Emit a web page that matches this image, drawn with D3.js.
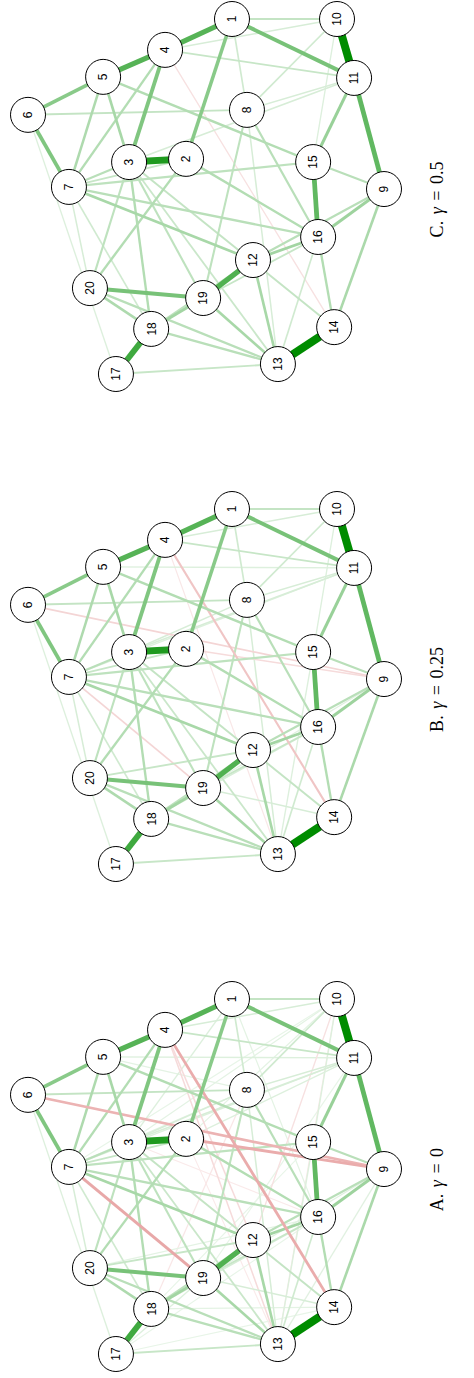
<!DOCTYPE html>
<html>
<head>
<meta charset="utf-8">
<script src="https://cdn.jsdelivr.net/npm/d3@7"></script>
<style>
  html, body { margin: 0; padding: 0; background: #ffffff; }
  svg { display: block; }
</style>
</head>
<body>
<script>
// Node layout (shared by all three networks), in layout units 0..100
const nodeIds = [1, 2, 3, 4, 5, 6, 7, 8, 9, 10, 11, 12, 13, 14, 15, 16, 17, 18, 19, 20];
const layoutX = [57.3, 44.4, 28.4, 38.5, 21.1, 0.0, 11.5, 61.5, 100.0, 86.8, 91.6, 63.2, 70.2, 86.0, 80.1, 81.5, 24.7, 34.6, 49.2, 17.4];
const layoutY = [0.0, 39.4, 40.3, 8.7, 16.3, 27.0, 47.3, 25.6, 47.9, 0.0, 16.6, 67.9, 97.2, 86.8, 40.3, 61.4, 100.0, 87.3, 78.6, 75.8];

// Panels, top to bottom
const panelLetters = ["C", "B", "A"];
const panelGammas = ["0.5", "0.25", "0"];

// Edge weights (partial correlations, scaled): [from, to, weight]
const edgesGamma05 = [
  [2, 3, .85], [10, 11, 1], [13, 14, 1], [17, 18, .7], [1, 4, .6], [4, 5, .6],
  [12, 19, .62], [9, 11, .55], [15, 16, .55], [1, 11, .45], [19, 20, .45],
  [5, 6, .38], [6, 7, .42], [3, 4, .42], [1, 2, .38], [11, 15, .32], [9, 16, .3],
  [12, 16, .28], [9, 14, .25], [12, 13, .26], [13, 19, .26], [14, 16, .22],
  [3, 5, .26], [5, 7, .24], [4, 7, .22], [5, 15, .22], [6, 8, .16], [1, 10, .16],
  [8, 10, .12], [8, 16, .2], [8, 19, .18], [8, 13, .1], [7, 12, .26], [7, 16, .2],
  [2, 16, .22], [4, 14, -.08], [6, 17, .08], [7, 20, .1], [3, 18, .22], [3, 19, .18],
  [3, 13, .14], [3, 7, .2], [2, 7, .15], [18, 19, .28], [18, 20, .24], [13, 20, .2],
  [13, 18, .2], [13, 17, .15], [12, 18, .18], [2, 20, .22], [3, 20, .18], [7, 18, .12],
  [8, 11, .1], [3, 11, .1], [3, 14, .16], [16, 19, .15], [9, 12, .2], [13, 16, .12],
  [9, 15, .2], [7, 15, .18], [1, 8, .12], [4, 11, .15], [10, 15, .08], [4, 10, .1]
];
// Additional / changed edges at gamma = 0.25
const edgesGamma025 = [
  [6, 9, -.12], [2, 9, -.1], [7, 19, -.12], [4, 14, -.18], [4, 13, -.06],
  [3, 8, .1], [7, 11, .08], [12, 20, .15], [5, 11, .08], [14, 19, .1],
  [16, 18, .1], [13, 15, .08], [1, 5, .06], [9, 19, .07]
];
// Additional / changed edges at gamma = 0
const edgesGamma0 = [
  [6, 9, -.25], [2, 9, -.28], [7, 19, -.3], [4, 14, -.28], [4, 13, -.1], [4, 12, -.1],
  [10, 12, -.08], [10, 13, -.06], [8, 18, -.06], [3, 16, -.05], [2, 13, -.05],
  [2, 10, .06], [3, 10, .06], [7, 10, .05], [2, 11, .08], [1, 3, .08], [5, 8, .06],
  [7, 8, .06], [9, 13, .07], [14, 18, .06], [15, 18, .05], [17, 19, .08],
  [14, 17, .05], [16, 20, .06], [16, 17, .05], [1, 16, .06], [11, 19, .05]
];

// Combine: each lower gamma keeps the sparser network's edges and adds its own
function mergeEdges(base, extra) {
  const m = new Map();
  base.concat(extra).forEach(([a, b, w]) => m.set(Math.min(a, b) + "-" + Math.max(a, b), [a, b, w]));
  return Array.from(m.values());
}
const edgesB = mergeEdges(edgesGamma05, edgesGamma025);
const edgesA = mergeEdges(edgesB, edgesGamma0);
const panelEdges = [edgesGamma05, edgesB, edgesA];

const W = 474, H = 1378;
const panelTop = [0, 490, 980];

const svg = d3.select("body").append("svg").attr("width", W).attr("height", H);

const x = d3.scaleLinear().domain([0, 100]).range([28, 384]);
const y = d3.scaleLinear().domain([0, 100]).range([19, 374]);
const nodeR = 17.5;

const posColor = d3.interpolateRgb("#ffffff", "#008c00");
const negColor = d3.interpolateRgb("#ffffff", "#c41a1a");
const strength = d3.scalePow().exponent(0.8).domain([0, 1]).range([0, 1]).clamp(true);
const widthScale = d3.scaleLinear().domain([0, 1]).range([0.8, 8]);

const nodes = nodeIds.map((id, i) => ({ id, lx: layoutX[i], ly: layoutY[i] }));
const byId = new Map(nodes.map(n => [n.id, n]));

panelEdges.forEach((edges, p) => {
  const g = svg.append("g").attr("transform", `translate(0,${panelTop[p]})`);

  const sorted = edges.slice().sort((a, b) => Math.abs(a[2]) - Math.abs(b[2]));
  g.append("g").selectAll("line").data(sorted).join("line")
    .attr("x1", d => x(byId.get(d[0]).lx))
    .attr("y1", d => y(byId.get(d[0]).ly))
    .attr("x2", d => x(byId.get(d[1]).lx))
    .attr("y2", d => y(byId.get(d[1]).ly))
    .attr("stroke", d => d[2] >= 0 ? posColor(strength(d[2])) : negColor(strength(-d[2])))
    .attr("stroke-width", d => widthScale(Math.abs(d[2])))
    .attr("stroke-linecap", "butt");

  const ng = g.append("g").selectAll("g").data(nodes).join("g")
    .attr("transform", d => `translate(${x(d.lx)},${y(d.ly)})`);
  ng.append("circle").attr("r", nodeR).attr("fill", "#ffffff")
    .attr("stroke", "#000000").attr("stroke-width", 1);
  ng.append("text")
    .attr("transform", "rotate(-90)")
    .attr("text-anchor", "middle")
    .attr("dy", "0.36em")
    .attr("font-family", "Liberation Sans, Arial, sans-serif")
    .attr("font-size", 12)
    .attr("fill", "#000")
    .text(d => d.id);

  // Panel caption, rotated with the figure
  const cy = (y(0) + y(100)) / 2 + 3;
  const cap = g.append("text")
    .attr("transform", `translate(437,${cy}) rotate(-90)`)
    .attr("text-anchor", "middle")
    .attr("dy", "0.35em")
    .attr("font-family", "Liberation Serif, Times New Roman, serif")
    .attr("font-size", 18)
    .attr("word-spacing", 2)
    .attr("fill", "#000");
  cap.append("tspan").text(panelLetters[p] + ". ");
  cap.append("tspan").attr("font-style", "italic").text("γ");
  cap.append("tspan").text(" = " + panelGammas[p]);
});
</script>
</body>
</html>
